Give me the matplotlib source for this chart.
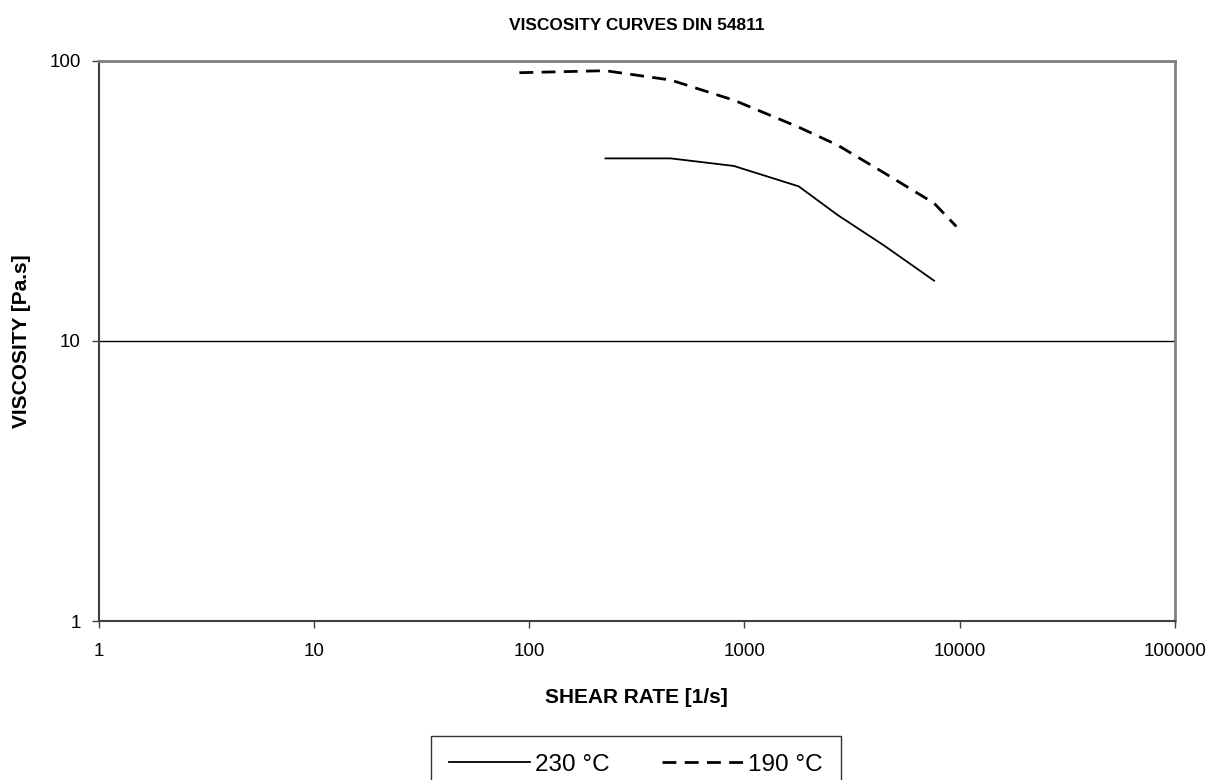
import numpy as np
import matplotlib
matplotlib.use('Agg')
import matplotlib.pyplot as plt
from matplotlib.ticker import FixedLocator, NullLocator, FuncFormatter

# shear rate [1/s] and viscosity [Pa.s]
rate_230 = [226, 454, 892, 1786, 2714, 4446, 7598]
visc_230 = [44.8, 44.8, 42.1, 35.6, 28.1, 21.9, 16.4]

rate_190 = [90, 226, 454, 892, 1786, 2714, 4446, 7598, 9640]
visc_190 = [90.6, 92.1, 85.3, 72.3, 57.9, 49.9, 39.8, 31.0, 25.6]

x_ticks = [1, 10, 100, 1000, 10000, 100000]
y_ticks = [1, 10, 100]

plt.rcParams['font.family'] = ['Liberation Sans', 'DejaVu Sans']

fig = plt.figure(figsize=(12.08, 7.8), dpi=100)
ax = fig.add_axes([0.0817, 0.2038, 0.8910, 0.7184])

ax.plot(rate_230, visc_230, color='black', lw=1.3, label='230 °C')
ax.plot(rate_190, visc_190, color='black', lw=2.0, dashes=(5, 3), label='190 °C')

ax.set_xscale('log')
ax.set_yscale('log')
ax.set_xlim(1, 100000)
ax.set_ylim(1, 100)

ax.xaxis.set_major_locator(FixedLocator(x_ticks))
ax.yaxis.set_major_locator(FixedLocator(y_ticks))
ax.xaxis.set_minor_locator(NullLocator())
ax.yaxis.set_minor_locator(NullLocator())
fmt = FuncFormatter(lambda v, p: '%d' % round(v))
ax.xaxis.set_major_formatter(fmt)
ax.yaxis.set_major_formatter(fmt)
ax.tick_params(labelsize=13.5, length=5, width=1, color='#404040')
ax.tick_params(axis='x', pad=11)
ax.tick_params(axis='y', pad=8)

ax.grid(axis='y', color='black', lw=1)
ax.set_axisbelow(True)

for s in ['left', 'bottom']:
    ax.spines[s].set_color('#404040')
    ax.spines[s].set_linewidth(1.5)
for s in ['top', 'right']:
    ax.spines[s].set_color('#808080')
    ax.spines[s].set_linewidth(2)

ax.set_title('VISCOSITY CURVES DIN 54811', fontsize=12.5, fontweight='bold', pad=22)
ax.set_xlabel('SHEAR RATE [1/s]', fontsize=15, fontweight='bold', labelpad=20)
ax.set_ylabel('VISCOSITY [Pa.s]', fontsize=15, fontweight='bold', labelpad=13)

leg = fig.legend(loc='upper center', bbox_to_anchor=(0.5265, 0.057), ncol=2,
                 fontsize=17.5, frameon=True, fancybox=False, edgecolor='black',
                 handlelength=3.35, handletextpad=0.2, columnspacing=2.15,
                 borderpad=0.75, borderaxespad=0)
leg.get_frame().set_linewidth(1)

fig.savefig('out.png', dpi=100)
